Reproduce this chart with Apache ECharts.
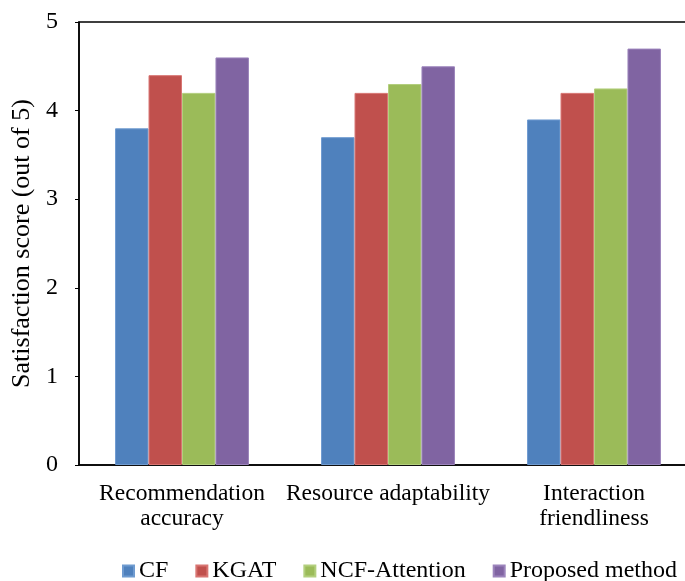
<!DOCTYPE html>
<html><head><meta charset="utf-8">
<script src="https://cdn.jsdelivr.net/npm/echarts@6/dist/echarts.min.js"></script>
<style>html,body{margin:0;padding:0;background:#fff}#c{width:685px;height:581px}</style>
</head><body><div id="c"></div>
<script>
const categories = ['Recommendation\naccuracy', 'Resource adaptability', 'Interaction\nfriendliness'];
const seriesNames = ['CF', 'KGAT', 'NCF-Attention', 'Proposed method'];
const cfValues = [3.8, 3.7, 3.9];
const kgatValues = [4.4, 4.2, 4.2];
const ncfValues = [4.2, 4.3, 4.25];
const proposedValues = [4.6, 4.5, 4.7];
const yTicks = [0, 1, 2, 3, 4, 5];
const colors = ['#4F81BD', '#C0504D', '#9BBB59', '#8064A2'];
const borders = ['#6F9BD0', '#D87572', '#B3CF7E', '#9C84BC'];
const allValues = [cfValues, kgatValues, ncfValues, proposedValues];
const font = "'Liberation Serif', 'Times New Roman', serif";

const chart = echarts.init(document.getElementById('c'), null, {renderer: 'canvas'});
chart.setOption({
  animation: false,
  textStyle: {fontFamily: font},
  grid: {left: 79, top: 22, right: -12, bottom: 116, show: true, borderColor: '#000', borderWidth: 1.5,
         containLabel: false, outerBoundsMode: 'none'},
  legend: {
    data: seriesNames, left: 117, top: 554, itemWidth: 11, itemHeight: 11, itemGap: 27,
    icon: 'rect',
    textStyle: {fontFamily: font, fontSize: 24, color: '#000'}
  },
  xAxis: {
    type: 'category', data: categories,
    axisLine: {lineStyle: {color: '#000', width: 1.5}},
    axisTick: {show: false},
    axisLabel: {fontFamily: font, fontSize: 23.5, color: '#000', lineHeight: 25, margin: 16, interval: 0}
  },
  yAxis: {
    type: 'value', min: 0, max: 5, interval: 1,
    name: 'Satisfaction score (out of 5)', nameLocation: 'middle', nameGap: 41,
    nameTextStyle: {fontFamily: font, fontSize: 26, color: '#000'},
    splitLine: {show: false},
    axisLine: {show: true, lineStyle: {color: '#000', width: 1.5}},
    axisTick: {show: true, length: 4, lineStyle: {color: '#000'}},
    axisLabel: {fontFamily: font, fontSize: 24, color: '#000', margin: 21}
  },
  series: seriesNames.map((n, i) => ({
    name: n, type: 'bar', data: allValues[i],
    barGap: '0%', barCategoryGap: '35%',
    itemStyle: {color: colors[i], borderColor: borders[i], borderWidth: 1}
  }))
});
</script></body></html>
